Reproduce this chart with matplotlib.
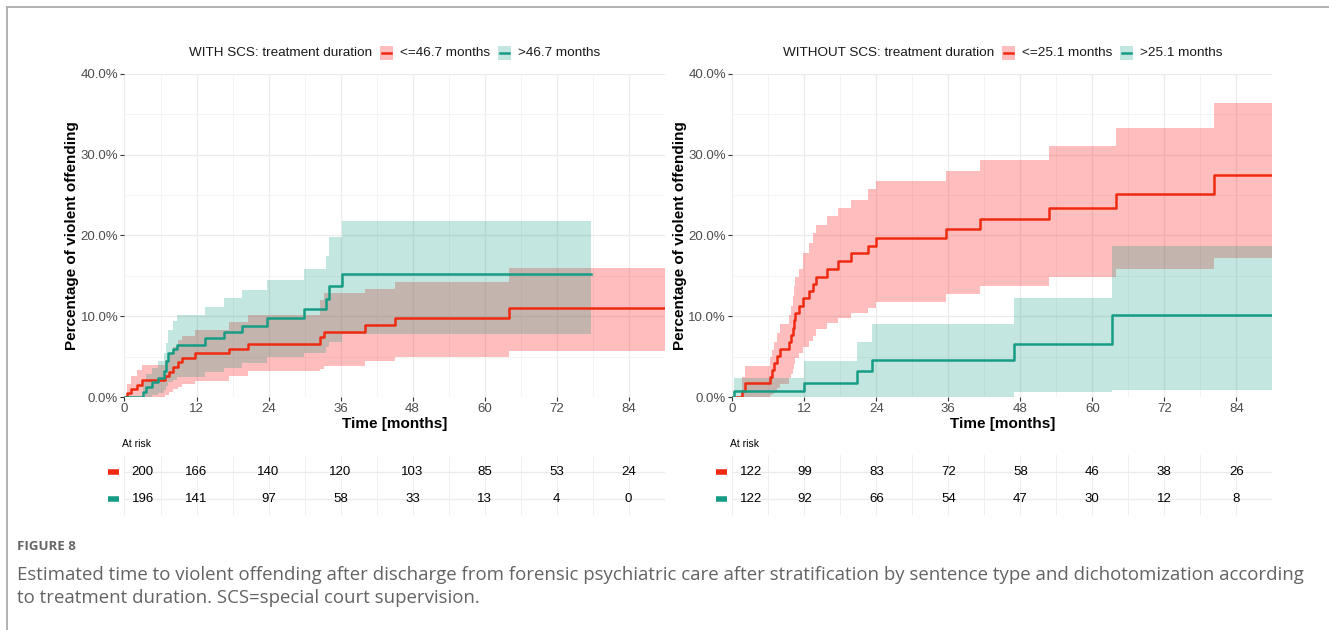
import matplotlib
matplotlib.use('Agg')
import matplotlib.pyplot as plt
from matplotlib.patches import Rectangle
from matplotlib.lines import Line2D
from matplotlib.ticker import MultipleLocator, FuncFormatter

plt.rcParams['font.family'] = ['Liberation Sans', 'DejaVu Sans']

# ---- data (months, % violent offending) ----
# WITH SCS, <=46.7 months
L_red_t = [0, 0.5, 1.0, 2.1, 2.9, 6.8, 7.4, 8.1, 8.9, 9.6, 11.8, 17.4, 20.6, 32.6, 33.2, 40.0, 45.0, 64.1]
L_red_y = [0, 0.5, 1.0, 1.5, 2.1, 2.6, 3.1, 3.7, 4.3, 4.8, 5.4, 6.0, 6.6, 7.4, 8.1, 8.9, 9.8, 11.0]
L_red_lo = [0, 0, 0, 0, 0, 0.3, 0.6, 1.0, 1.3, 1.6, 2.0, 2.6, 3.2, 3.5, 3.9, 4.4, 5.0, 5.7]
L_red_hi = [0, 1.6, 2.6, 3.3, 4.0, 4.6, 5.4, 6.2, 7.0, 7.6, 8.3, 9.3, 10.1, 12.0, 12.9, 13.4, 14.2, 16.0]
# WITH SCS, >46.7 months
L_teal_t = [0, 3.1, 3.6, 4.6, 5.6, 6.6, 6.9, 7.3, 8.1, 8.7, 13.4, 16.6, 19.5, 23.8, 29.9, 33.6, 34.0, 36.3]
L_teal_y = [0, 0.6, 1.2, 1.8, 2.3, 3.2, 4.4, 5.4, 6.0, 6.5, 7.3, 8.1, 8.8, 9.8, 10.9, 12.1, 13.7, 15.2]
L_teal_lo = [0, 0, 0, 0.2, 0.5, 0.9, 1.4, 1.8, 2.1, 2.5, 3.1, 3.6, 4.2, 5.0, 5.5, 6.2, 6.8, 7.8]
L_teal_hi = [0, 1.8, 2.8, 3.6, 4.4, 5.4, 6.7, 8.3, 9.4, 10.2, 11.2, 12.2, 13.3, 14.5, 15.9, 17.5, 19.8, 21.8]
L_teal_end = 77.8

# WITHOUT SCS, <=25.1 months
R_red_t = [0, 1.6, 2.1, 6.2, 6.6, 7.0, 7.4, 8.0, 9.4, 9.8, 10.1, 10.3, 10.5, 11.1, 11.8, 12.7, 13.4, 14.0,
           15.7, 17.6, 19.8, 22.6, 23.9, 35.6, 41.2, 52.8, 64.0, 80.3]
R_red_y = [0, 0.8, 1.7, 2.5, 3.4, 4.2, 5.1, 5.9, 6.8, 7.7, 8.6, 9.5, 10.4, 11.3, 12.2, 13.1, 14.0, 14.9,
           15.9, 16.8, 17.8, 18.7, 19.7, 20.8, 22.0, 23.4, 25.1, 27.5]
R_red_lo = [0, 0, 0, 0.2, 0.4, 0.8, 1.1, 1.6, 2.3, 2.9, 3.5, 4.1, 4.8, 5.4, 6.2, 6.9, 7.6, 8.4,
            9.2, 9.8, 10.4, 11.0, 11.8, 12.8, 13.7, 14.8, 15.9, 17.2]
R_red_hi = [0, 2.5, 3.9, 4.9, 5.8, 6.8, 7.9, 9.1, 10.1, 11.3, 12.5, 13.8, 14.9, 15.9, 17.8, 19.1, 20.3, 21.3,
            22.4, 23.4, 24.4, 25.7, 26.7, 28.0, 29.4, 31.1, 33.3, 36.4]
# WITHOUT SCS, >25.1 months
R_teal_t = [0, 0.3, 12.0, 20.7, 23.3, 46.9, 63.3]
R_teal_y = [0, 0.8, 1.7, 3.2, 4.6, 6.6, 10.2]
R_teal_lo = [0, 0, 0, 0, 0, 0.6, 0.9]
R_teal_hi = [0, 2.3, 4.4, 6.8, 9.0, 12.3, 18.7]

# numbers at risk
risk_times = [0, 12, 24, 36, 48, 60, 72, 84]
L_risk_red = [200, 166, 140, 120, 103, 85, 53, 24]
L_risk_teal = [196, 141, 97, 58, 33, 13, 4, 0]
R_risk_red = [122, 99, 83, 72, 58, 46, 38, 26]
R_risk_teal = [122, 92, 66, 54, 47, 30, 12, 8]

RED = '#EE2A10'
TEAL = '#169C84'
RED_FILL = '#FF0000'
XMAX = 90

W, H = 1329, 630
fig = plt.figure(figsize=(W / 100, H / 100), dpi=100)


def fx(px):
    return px / W


def fy(py):
    return 1 - py / H


def draw_curve(ax, t, y, lo, hi, end, line_col, fill_col, alpha):
    tt = t + [end]
    ax.fill_between(tt, lo + [lo[-1]], hi + [hi[-1]], step='post', color=fill_col,
                    alpha=alpha, lw=0, zorder=2)
    ax.step(tt, y + [y[-1]], where='post', color=line_col, lw=1.8, zorder=3)


def draw_panel(left, curves, risk_red, risk_teal, legend):
    ax = fig.add_axes([fx(left), fy(397), 540 / W, 323 / H])
    for c in curves:
        draw_curve(ax, *c)
    ax.set_xlim(0, XMAX)
    ax.set_ylim(0, 40)
    ax.xaxis.set_major_locator(MultipleLocator(12))
    ax.xaxis.set_minor_locator(MultipleLocator(6))
    ax.yaxis.set_major_locator(MultipleLocator(10))
    ax.yaxis.set_minor_locator(MultipleLocator(5))
    ax.yaxis.set_major_formatter(FuncFormatter(lambda v, p: f'{v:.1f}%'))
    ax.grid(which='major', color='#EBEBEB', lw=0.9)
    ax.grid(which='minor', color='#F3F3F3', lw=0.6)
    ax.set_axisbelow(True)
    for s in ax.spines.values():
        s.set_visible(False)
    ax.tick_params(which='major', length=3, width=0.8, color='#333333',
                   labelsize=9.5, labelcolor='#4D4D4D', pad=1.5)
    ax.tick_params(which='minor', length=0)
    ax.set_xlabel('Time [months]', fontsize=11, fontweight='bold', labelpad=1)
    ax.set_ylabel('Percentage of violent offending', fontsize=11, fontweight='bold', labelpad=1)

    # risk table
    tb = fig.add_axes([fx(left), fy(515), 540 / W, 60 / H])
    tb.set_xlim(0, XMAX)
    tb.set_ylim(0.41, 2.63)
    tb.axis('off')
    for v in range(0, XMAX + 1, 6):
        tb.axvline(v, color='#EFEFEF', lw=0.7, zorder=0)
    for row in (1, 2):
        tb.axhline(row, color='#EBEBEB', lw=1.0, zorder=0)
    for row, vals, col in ((2, risk_red, RED), (1, risk_teal, TEAL)):
        for t, n in zip(risk_times, vals):
            tb.text(t if t > 0 else 3.05, row, str(n), ha='center', va='center', fontsize=9.5, color='black')
        tb.plot([-2.8, -0.9], [row, row], color=col, lw=4, solid_capstyle='butt', clip_on=False)
    fig.text(fx(left - 2.5), fy(444), 'At risk', fontsize=7.5, va='center', ha='left')

    # legend on top
    title, title_right, keys = legend
    fig.text(fx(title_right), fy(53), title, ha='right', va='center', fontsize=9.7, color='#1A1A1A')
    for x0, label, col, fcol, alpha in keys:
        fig.add_artist(Rectangle((fx(x0), fy(59.5)), 13 / W, 13 / H, transform=fig.transFigure,
                                 facecolor=fcol, alpha=alpha, lw=0))
        fig.add_artist(Line2D([fx(x0 + 2), fx(x0 + 11)], [fy(53), fy(53)], color=col, lw=1.8))
        fig.text(fx(x0 + 19.5), fy(53), label, ha='left', va='center', fontsize=9.7, color='#1A1A1A')
    return ax


draw_panel(124.5,
           [(L_red_t, L_red_y, L_red_lo, L_red_hi, XMAX, RED, RED_FILL, 0.26),
            (L_teal_t, L_teal_y, L_teal_lo, L_teal_hi, L_teal_end, TEAL, TEAL, 0.25)],
           L_risk_red, L_risk_teal,
           ('WITH SCS: treatment duration', 372,
            [(380, '<=46.7 months', RED, RED_FILL, 0.26), (498, '>46.7 months', TEAL, TEAL, 0.25)]))

draw_panel(732.3,
           [(R_red_t, R_red_y, R_red_lo, R_red_hi, XMAX, RED, RED_FILL, 0.26),
            (R_teal_t, R_teal_y, R_teal_lo, R_teal_hi, XMAX, TEAL, TEAL, 0.25)],
           R_risk_red, R_risk_teal,
           ('WITHOUT SCS: treatment duration', 994,
            [(1002, '<=25.1 months', RED, RED_FILL, 0.26), (1120, '>25.1 months', TEAL, TEAL, 0.25)]))

# frame lines of the page
fig.add_artist(Line2D([fx(7), 1], [fy(7), fy(7)], color='#ABABAB', lw=1.3))
fig.add_artist(Line2D([fx(7), fx(7)], [fy(7), 0], color='#ABABAB', lw=1.3))

# caption
fig.text(fx(17), fy(547), 'FIGURE 8', fontsize=9.5, fontweight='bold', family=['Open Sans', 'DejaVu Sans'],
         color='#666666', va='center')
line1 = ('Estimated time to violent offending after discharge from forensic psychiatric care after '
         'stratification by sentence type and dichotomization according')
line2 = 'to treatment duration. SCS=special court supervision.'
c1 = fig.text(fx(17), fy(575), line1, fontsize=11, family=['Open Sans', 'DejaVu Sans'], color='#636363', va='center')
fig.canvas.draw()
fs = 11 * 1293 / c1.get_window_extent().width
c1.set_fontsize(fs)
fig.text(fx(17), fy(598), line2, fontsize=fs, family=['Open Sans', 'DejaVu Sans'], color='#636363', va='center')

fig.savefig('out.png', dpi=100)
